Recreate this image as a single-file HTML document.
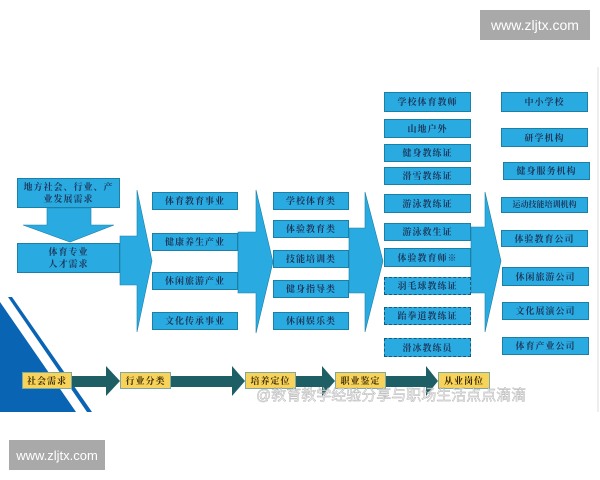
<!DOCTYPE html>
<html><head><meta charset="utf-8"><style>
body{margin:0;width:600px;height:480px;background:#fff;position:relative;overflow:hidden;font-family:"Liberation Serif","Noto Serif CJK SC",serif}
.b{position:absolute;background:#29abe2;border:1px solid #1b7fa6;box-sizing:border-box;color:#1d3557;font-size:9px;font-weight:bold;display:flex;align-items:center;justify-content:center;text-align:center;line-height:12px;letter-spacing:1px}
.d{border:1px dashed #17597a}
.y{position:absolute;background:#f7d35c;border:1px solid #7fa99a;box-sizing:border-box;color:#3a2a00;font-size:9px;font-weight:bold;display:flex;align-items:center;justify-content:center;letter-spacing:1px}
.w{position:absolute;background:#a9a9a9;color:#fff;font-family:"Liberation Sans",sans-serif;font-size:14px;display:flex;align-items:center;justify-content:center}
</style></head><body>
<svg width="600" height="480" style="position:absolute;left:0;top:0">
<line x1="598" y1="67" x2="598" y2="412" stroke="#ddd"/>
<polygon points="0,302 76,412 0,412" fill="#0a64b4"/>
<polygon points="8,297 12,297 92,412 87,412" fill="#0a64b4"/>
<g fill="#29abe2" stroke="#1b7fa6" stroke-width="0.6">
<polygon points="47,208 91,208 91,225 114,225 70,242 23,225 47,225"/>
<polygon points="120,236 137,236 137,190 152,261 137,332 137,285 120,285"/>
<polygon points="238,232 256,232 256,190 273,262 256,333 256,293 238,293"/>
<polygon points="349,228 365,228 365,192 383,261 365,332 365,293 349,293"/>
<polygon points="471,227 485,227 485,192 501,261 485,332 485,293 471,293"/>
</g>
<g fill="#1e5f66">
<polygon points="72,376 106,376 106,366 120,381 106,396 106,387 72,387"/>
<polygon points="171,376 232,376 232,366 245,381 232,396 232,387 171,387"/>
<polygon points="296,376 322,376 322,366 335,381 322,396 322,387 296,387"/>
<polygon points="386,376 426,376 426,366 438,381 426,396 426,387 386,387"/>
</g>
</svg>
<div class="b" style="left:17px;top:178px;width:103px;height:30px">地方社会、行业、产<br>业发展需求</div>
<div class="b" style="left:17px;top:243px;width:103px;height:30px">体育专业<br>人才需求</div>
<div class="b" style="left:152px;top:192px;width:86px;height:18px">体育教育事业</div>
<div class="b" style="left:152px;top:233px;width:86px;height:18px">健康养生产业</div>
<div class="b" style="left:152px;top:272px;width:86px;height:18px">休闲旅游产业</div>
<div class="b" style="left:152px;top:312px;width:86px;height:18px">文化传承事业</div>
<div class="b" style="left:273px;top:192px;width:76px;height:18px">学校体育类</div>
<div class="b" style="left:273px;top:220px;width:76px;height:18px">体验教育类</div>
<div class="b" style="left:273px;top:250px;width:76px;height:18px">技能培训类</div>
<div class="b" style="left:273px;top:280px;width:76px;height:18px">健身指导类</div>
<div class="b" style="left:273px;top:312px;width:76px;height:18px">休闲娱乐类</div>
<div class="b" style="left:384px;top:92px;width:87px;height:20px">学校体育教师</div>
<div class="b" style="left:384px;top:119px;width:87px;height:19px">山地户外</div>
<div class="b" style="left:384px;top:144px;width:87px;height:18px">健身教练证</div>
<div class="b" style="left:384px;top:167px;width:87px;height:18px">滑雪教练证</div>
<div class="b" style="left:384px;top:194px;width:87px;height:19px">游泳教练证</div>
<div class="b" style="left:384px;top:223px;width:87px;height:18px">游泳救生证</div>
<div class="b" style="left:384px;top:248px;width:87px;height:19px">体验教育师※</div>
<div class="b d" style="left:384px;top:277px;width:87px;height:18px">羽毛球教练证</div>
<div class="b d" style="left:384px;top:307px;width:87px;height:18px">跆拳道教练证</div>
<div class="b d" style="left:384px;top:338px;width:87px;height:19px">滑冰教练员</div>
<div class="b" style="left:501px;top:92px;width:87px;height:20px">中小学校</div>
<div class="b" style="left:501px;top:128px;width:87px;height:19px">研学机构</div>
<div class="b" style="left:503px;top:162px;width:87px;height:18px">健身服务机构</div>
<div class="b" style="left:501px;top:197px;width:87px;height:16px;font-size:8px;letter-spacing:0">运动技能培训机构</div>
<div class="b" style="left:501px;top:230px;width:87px;height:17px">体验教育公司</div>
<div class="b" style="left:502px;top:267px;width:87px;height:19px">休闲旅游公司</div>
<div class="b" style="left:502px;top:302px;width:87px;height:18px">文化展演公司</div>
<div class="b" style="left:502px;top:337px;width:87px;height:18px">体育产业公司</div>
<div class="y" style="left:22px;top:372px;width:50px;height:17px">社会需求</div>
<div class="y" style="left:120px;top:372px;width:51px;height:17px">行业分类</div>
<div class="y" style="left:245px;top:372px;width:51px;height:17px">培养定位</div>
<div class="y" style="left:335px;top:372px;width:51px;height:17px">职业鉴定</div>
<div class="y" style="left:438px;top:372px;width:52px;height:17px">从业岗位</div>
<div style="position:absolute;left:256px;top:384px;font-family:'Liberation Sans','Noto Sans CJK SC',sans-serif;font-size:15px;color:#f2f2f2;-webkit-text-stroke:0.4px #999;white-space:nowrap;opacity:0.85">@教育教学经验分享与职场生活点点滴滴</div>
<div class="w" style="left:480px;top:10px;width:110px;height:30px">www.zljtx.com</div>
<div class="w" style="left:9px;top:440px;width:96px;height:30px;font-size:13px">www.zljtx.com</div>
</body></html>
